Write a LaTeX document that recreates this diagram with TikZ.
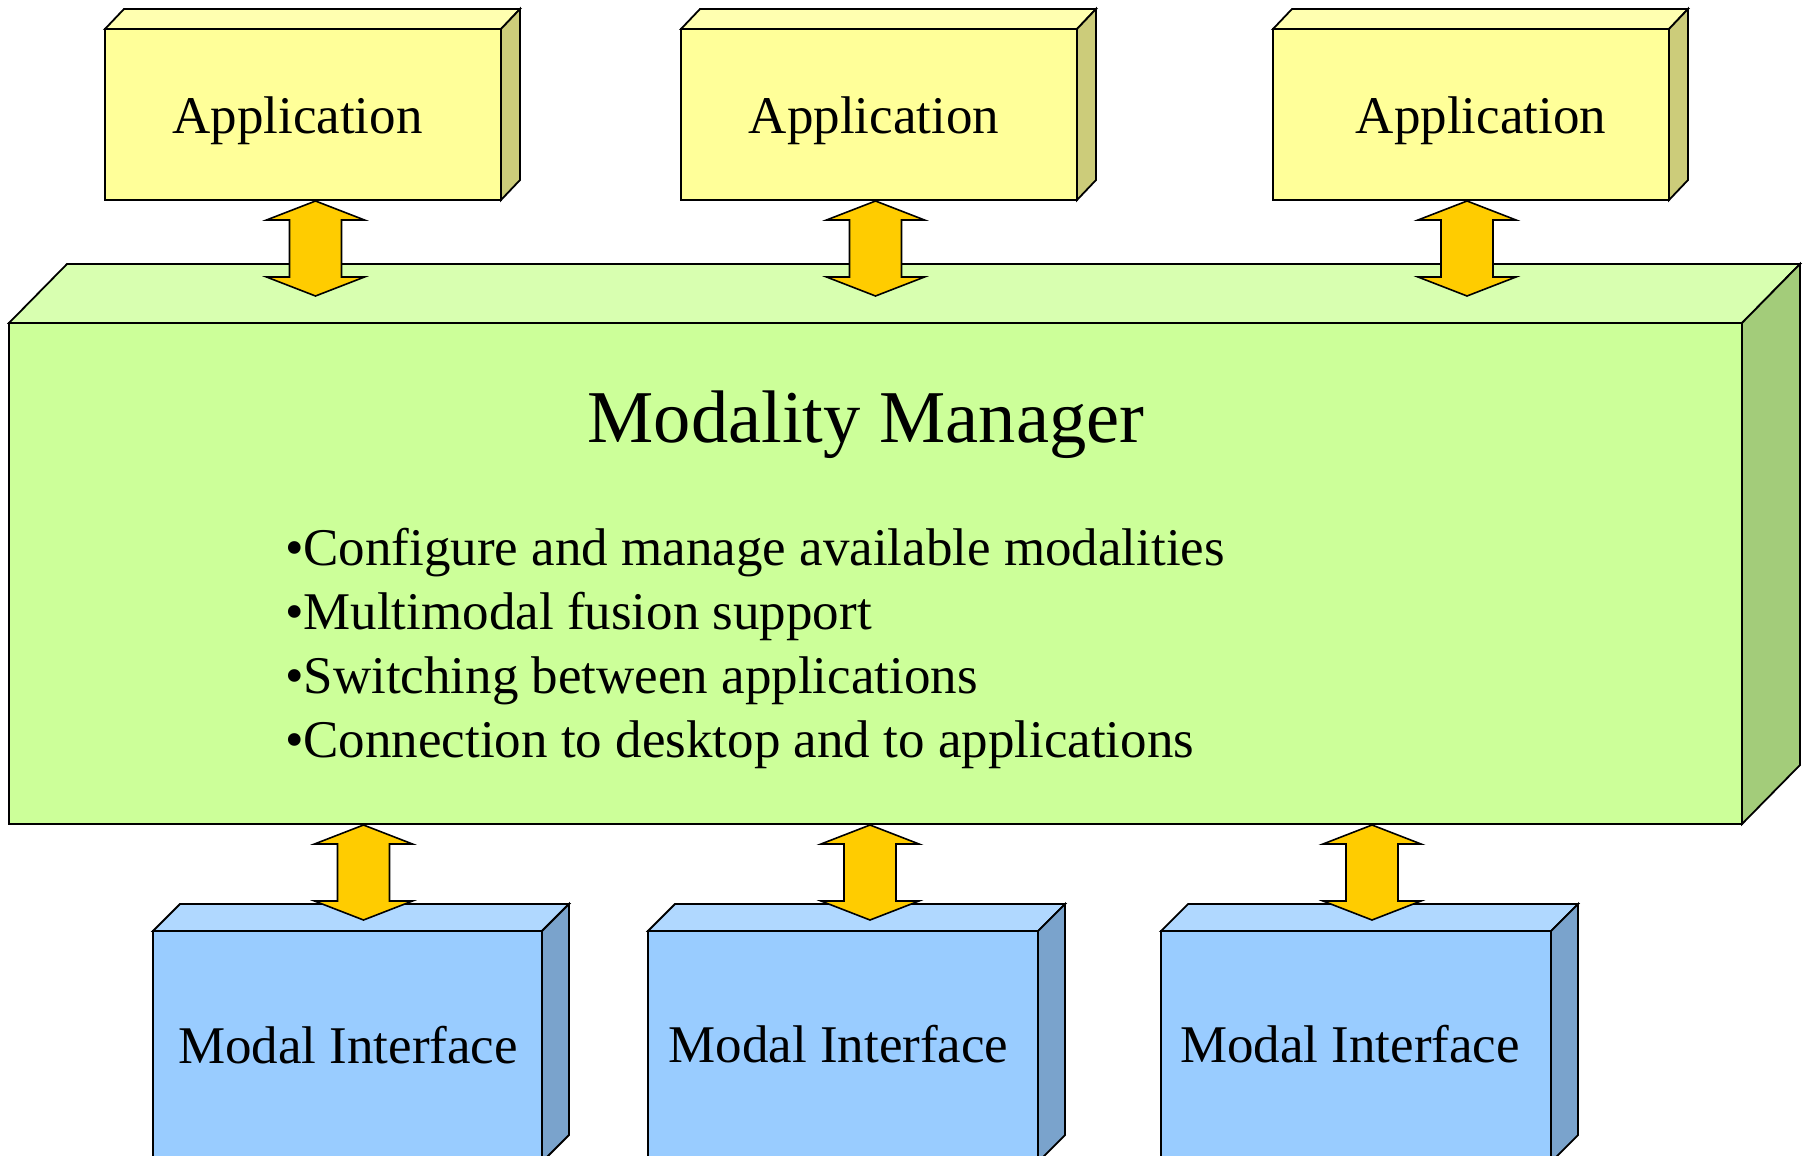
\documentclass[tikz,border=0pt]{standalone}
\usepackage{fontspec}
\setmainfont{Liberation Serif}
\definecolor{appF}{HTML}{FFFF99}
\definecolor{appT}{HTML}{FFFFB0}
\definecolor{appS}{HTML}{CCCC7A}
\definecolor{mmF}{HTML}{CCFF99}
\definecolor{mmT}{HTML}{D8FFB0}
\definecolor{mmS}{HTML}{A3CC7A}
\definecolor{miF}{HTML}{99CCFF}
\definecolor{miT}{HTML}{B0D8FF}
\definecolor{miS}{HTML}{7AA3CC}
\definecolor{arrowF}{HTML}{FFCC00}
\tikzset{
  face/.style={draw=black, line width=1.8pt, line join=miter},
  blockarrow/.style={draw=black, fill=arrowF, line width=1.6pt, line join=miter},
  lbl/.style={inner sep=0pt, outer sep=0pt, font=\fontsize{53}{64}\selectfont},
  title/.style={inner sep=0pt, outer sep=0pt, font=\fontsize{74.5}{88}\selectfont},
}
% #1 name, #2 x1, #3 y1, #4 x2, #5 y2, #6 depth x, #7 depth y, #8 colour prefix
\newcommand\cuboid[8]{%
  \node[face, fill=#8F, minimum width={#4-#2}, minimum height={#5-#3},
        inner sep=0pt, outer sep=0pt, anchor=north west] (#1) at (#2,#3) {};
  \draw[face, fill=#8T] (#1.north west) -- ({#2+#6},{#3-#7}) -- ({#4+#6},{#3-#7}) -- (#1.north east) -- cycle;
  \draw[face, fill=#8S] (#1.north east) -- ({#4+#6},{#3-#7}) -- ({#4+#6},{#5-#7}) -- (#1.south east) -- cycle;
}
% #1 centre x, #2 top tip y, #3 bottom tip y
\newcommand\dblarrow[3]{%
  \draw[blockarrow] (#1,#2) -- ({#1+49},{#2+19}) -- ({#1+26},{#2+19}) -- ({#1+26},{#3-19})
    -- ({#1+49},{#3-19}) -- (#1,#3) -- ({#1-49},{#3-19}) -- ({#1-26},{#3-19})
    -- ({#1-26},{#2+19}) -- ({#1-49},{#2+19}) -- cycle;
}
\begin{document}
\begin{tikzpicture}[x=1pt,y=-1pt]
\useasboundingbox (0,0) rectangle (1809,1156);
\fill[white] (0,0) rectangle (1809,1156);
\clip (0,0) rectangle (1809,1156);

% Applications
\cuboid{app1}{105}{29}{501}{200}{19}{20}{app}
\cuboid{app2}{681}{29}{1077}{200}{19}{20}{app}
\cuboid{app3}{1273}{29}{1669}{200}{19}{20}{app}
\node[lbl, anchor=base] (app1t) at (297.5,133) {Application};
\node[lbl, anchor=base] (app2t) at (874,133) {Application};
\node[lbl, anchor=base] (app3t) at (1481,133) {Application};

% Modality manager
\cuboid{mm}{9}{323}{1742}{824}{58}{59}{mm}
\node[title, anchor=base] (mmt) at (866,442) {Modality Manager};
\node[lbl, anchor=base west] (b1) at (285,565) {•Configure and manage available modalities};
\node[lbl, anchor=base west] (b2) at (285,629) {•Multimodal fusion support};
\node[lbl, anchor=base west] (b3) at (285,693) {•Switching between applications};
\node[lbl, anchor=base west] (b4) at (285,757) {•Connection to desktop and to applications};

% arrows application <-> manager
\dblarrow{315.5}{201}{296}
\dblarrow{875.5}{201}{296}
\dblarrow{1467}{201}{296}

% Modal interfaces
\cuboid{mi1}{153}{931}{542}{1162}{27}{27}{mi}
\cuboid{mi2}{648}{931}{1038}{1162}{27}{27}{mi}
\cuboid{mi3}{1161}{931}{1551}{1162}{27}{27}{mi}
\node[lbl, anchor=base] (mi1t) at (348,1063) {Modal Interface};
\node[lbl, anchor=base] (mi2t) at (838.5,1062) {Modal Interface};
\node[lbl, anchor=base] (mi3t) at (1350,1062) {Modal Interface};

% arrows manager <-> interfaces
\dblarrow{363.5}{825}{920}
\dblarrow{870}{825}{920}
\dblarrow{1372}{825}{920}
\end{tikzpicture}
\end{document}
